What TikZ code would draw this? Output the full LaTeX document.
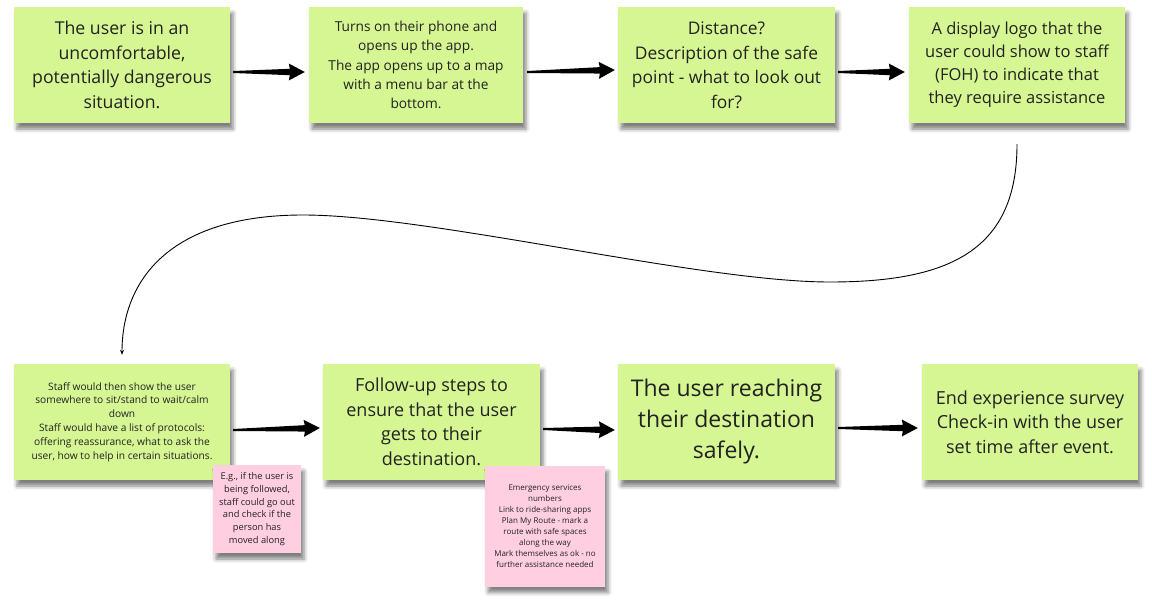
\documentclass[tikz,border=0pt]{standalone}
\usepackage{fontspec}
\setmainfont{Open Sans}
\usepackage{xcolor}
\usepackage{tikz}
\usetikzlibrary{positioning}
\usetikzlibrary{calc}
\usetikzlibrary{arrows.meta, shadows.blur}
\definecolor{stickygreen}{HTML}{D5F692}
\definecolor{stickypink}{HTML}{FFCEE0}
\definecolor{inkgray}{HTML}{222222}
\def\fsz#1#2{\fontsize{#1}{#2}\selectfont}
\tikzstyle{sticky} = [rectangle, fill=stickygreen, minimum width=216, minimum height=116, align=center, text=inkgray, inner sep=2pt, blur shadow={shadow xshift=3pt, shadow yshift=-6pt, shadow opacity=50, shadow blur radius=4pt}]
\tikzstyle{note} = [sticky, fill=stickypink]
\tikzstyle{fatarrow} = [fill=black, draw=none, to path={let \p1=(\tikztostart), \p2=(\tikztotarget), \n1={atan2(\y2-\y1,\x2-\x1)} in ($(\p1)+(\n1+90:1pt)$) -- ($(\p2)+(\n1+180:15pt)+(\n1+90:3.2pt)$) -- ($(\p2)+(\n1+180:16pt)+(\n1+90:8.5pt)$) -- (\p2) -- ($(\p2)+(\n1+180:16pt)+(\n1-90:8.5pt)$) -- ($(\p2)+(\n1+180:15pt)+(\n1-90:3.2pt)$) -- ($(\p1)+(\n1-90:1pt)$) -- cycle}]
\tikzstyle{curvy} = [draw=black, line width=0.9pt, -{Stealth[length=5pt,width=4pt]}]

\begin{document}
\begin{tikzpicture}[x=1pt,y=-1pt]
    \useasboundingbox (0,0) rectangle (1161,605);
    % top row
    \node[sticky, font=\fsz{17.7}{24.5}] (S1) at (122,65) {The user is in an\\uncomfortable,\\potentially dangerous\\situation.};
    \node[sticky, minimum width=214, font=\fsz{13.7}{19.3}] (S2) at (416,65) {Turns on their phone and\\opens up the app.\\The app opens up to a map\\with a menu bar at the\\bottom.};
    \node[sticky, minimum width=217, font=\fsz{17.4}{24.5}] (S3) at (726.5,65) {Distance?\\Description of the safe\\point - what to look out\\for?};
    \node[sticky, font=\fsz{16.5}{23}] (S4) at (1017,65) {A display logo that the\\user could show to staff\\(FOH) to indicate that\\they require assistance};
    % bottom row
    \node[sticky, font=\fsz{10.2}{13.8}] (S5) at (122,422) {Staff would then show the user\\somewhere to sit/stand to wait/calm\\down\\Staff would have a list of protocols:\\offering reassurance, what to ask the\\user, how to help in certain situations.};
    \node[sticky, minimum width=217, font=\fsz{18}{24.5}] (S6) at (431.5,422) {Follow-up steps to\\ensure that the user\\gets to their\\destination.};
    \node[sticky, minimum width=217, font=\fsz{23}{31}] (S7) at (726.5,422) {The user reaching\\their destination\\safely.};
    \node[sticky, font=\fsz{18}{24.5}] (S8) at (1030,422) {End experience survey\\Check-in with the user\\set time after event.};
    % pink notes
    \node[note, minimum width=88, minimum height=88, font=\fsz{9.3}{12.8}] (P1) at (257,509) {E.g., if the user is\\being followed,\\staff could go out\\and check if the\\person has\\moved along};
    \node[note, minimum width=120, minimum height=121, font=\fsz{8}{10.9}] (P2) at (545,526) {Emergency services\\numbers\\Link to ride-sharing apps\\Plan My Route - mark a\\route with safe spaces\\along the way\\Mark themselves as ok - no\\further assistance needed};
    % arrows
    \path[fatarrow] ([shift={(3,7)}]S1.east) to ([shift={(-4,7)}]S2.west);
    \path[fatarrow] ([shift={(4,7)}]S2.east) to ([shift={(-3,5)}]S3.west);
    \path[fatarrow] ([shift={(3,7)}]S3.east) to ([shift={(-4,7)}]S4.west);
    \path[fatarrow] ([shift={(3,8)}]S5.east) to ([shift={(-3,6)}]S6.west);
    \path[fatarrow] ([shift={(3,7)}]S6.east) to ([shift={(-3,8)}]S7.west);
    \path[fatarrow] ([shift={(3,6)}]S7.east) to ([shift={(-4,6)}]S8.west);
    \draw[curvy, shorten <=21pt, shorten >=9pt] (S4.south) .. controls (1017,250) and (950,282) .. (830,282)
        .. controls (700,282) and (430,215) .. (303,215)
        .. controls (170,215) and (122,280) .. (S5.north);
\end{tikzpicture}
\end{document}
